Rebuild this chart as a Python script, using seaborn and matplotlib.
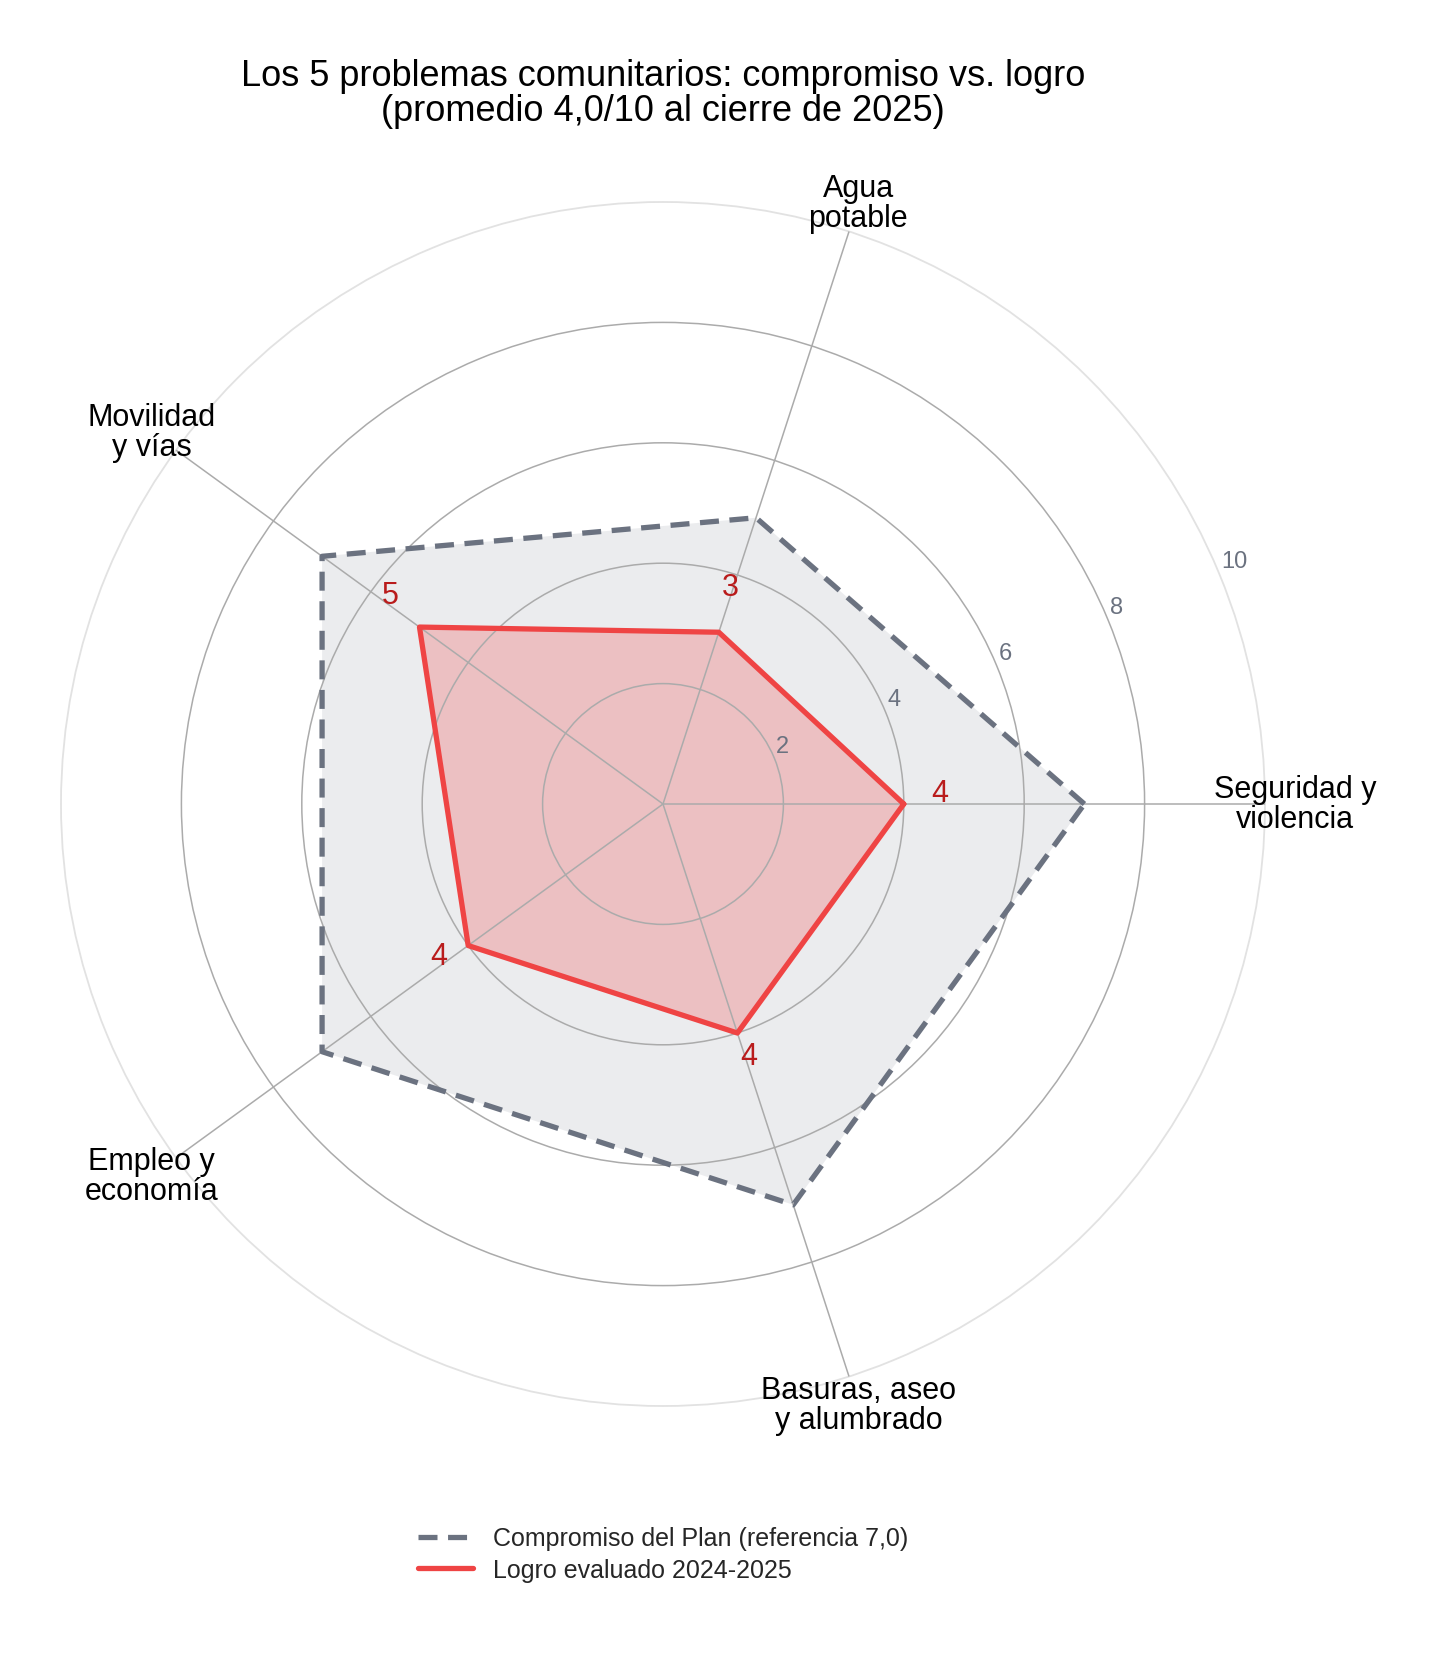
import numpy as np
import pandas as pd
import matplotlib
matplotlib.use("Agg")
import matplotlib.pyplot as plt
from matplotlib.lines import Line2D
import seaborn as sns

# ---------------- data ----------------
categories = ["Seguridad y\nviolencia", "Agua\npotable", "Movilidad\ny vías",
              "Empleo y\neconomía", "Basuras, aseo\ny alumbrado"]
compromiso = [7, 5, 7, 7, 7]
logro = [4, 3, 5, 4, 4]
value_labels = ["4", "3", "5", "4", "4"]
rticks = [2, 4, 6, 8, 10]
rtick_labels = ["2", "4", "6", "8", "10"]
series_names = ["Compromiso del Plan (referencia 7,0)", "Logro evaluado 2024-2025"]
title = "Los 5 problemas comunitarios: compromiso vs. logro\n(promedio 4,0/10 al cierre de 2025)"

# ---------------- style ----------------
sns.set_theme(style="white")
plt.rcParams["font.family"] = ["Liberation Sans", "DejaVu Sans"]

GRAY = "#6b7280"
RED = "#ef4444"
DARKRED = "#b91c1c"
GRID = "#ababab"

W, H = 1437, 1656
fig = plt.figure(figsize=(W / 100, H / 100), dpi=100)
cx, cy, R = 663, 805, 602
ax = fig.add_axes([(cx - R) / W, 1 - (cy + R) / H, 2 * R / W, 2 * R / H], projection="polar")

n = len(categories)
angles = np.linspace(0, 2 * np.pi, n, endpoint=False)
theta_c = np.append(angles, angles[0])
comp_c = np.append(compromiso, compromiso[0])
logro_c = np.append(logro, logro[0])

df = pd.DataFrame({
    "theta": np.concatenate([theta_c, theta_c]),
    "r": np.concatenate([comp_c, logro_c]),
    "serie": [series_names[0]] * len(theta_c) + [series_names[1]] * len(theta_c),
})

DASH = (3.6, 2.0)
LW = 3.8

# fills
ax.fill(theta_c, comp_c, color=GRAY, alpha=0.13, zorder=1, lw=0)
ax.fill(theta_c, logro_c, color=RED, alpha=0.26, zorder=1.1, lw=0)

# lines via seaborn
sns.lineplot(data=df[df.serie == series_names[0]], x="theta", y="r", ax=ax, sort=False,
             estimator=None, color=GRAY, lw=LW, legend=False, zorder=3)
ax.lines[-1].set_dashes(DASH)
sns.lineplot(data=df[df.serie == series_names[1]], x="theta", y="r", ax=ax, sort=False,
             estimator=None, color=RED, lw=LW, legend=False, zorder=3.1)

ax.set_xlabel("")
ax.set_ylabel("")
ax.set_ylim(0, 10)
ax.set_yticks(rticks[:-1])
ax.set_yticklabels([])
ax.set_xticks(angles)
ax.set_xticklabels([])
ax.set_axisbelow(False)
ax.grid(True, color=GRID, lw=1.1)
ax.spines["polar"].set_color("#e2e2e2")
ax.spines["polar"].set_linewidth(1.3)
ax.set_facecolor("white")

# radial tick labels
for r, lbl in zip(rticks, rtick_labels):
    ax.annotate(lbl, xy=(np.deg2rad(22.5), r), xytext=(1.5, 1.0), textcoords="offset points",
                ha="left", va="bottom", fontsize=17, color=GRAY, zorder=5)

# value labels
for a, v, lbl in zip(angles, logro, value_labels):
    ax.annotate(lbl, xy=(a, v + 0.6), xytext=(0, 8), textcoords="offset points",
                ha="center", va="center", fontsize=22, color=DARKRED, zorder=5)

# category labels
for a, c in zip(angles, categories):
    ax.text(a, 10.5, c, ha="center", va="center", fontsize=22, color="black",
            linespacing=1.0, multialignment="center", zorder=5)

# title
fig.text(cx / W, 1 - 94 / H, title, ha="center", va="center", fontsize=26,
         color="black", linespacing=1.0, multialignment="center")

# legend
handles = [Line2D([0], [0], color=GRAY, lw=LW, dashes=DASH),
           Line2D([0], [0], color=RED, lw=LW)]
fig.legend(handles, series_names, loc="center", bbox_to_anchor=(cx / W, 1 - 1555 / H),
           frameon=False, fontsize=18, handlelength=2.2, labelspacing=0.3)

fig.savefig("out.png", dpi=100)
